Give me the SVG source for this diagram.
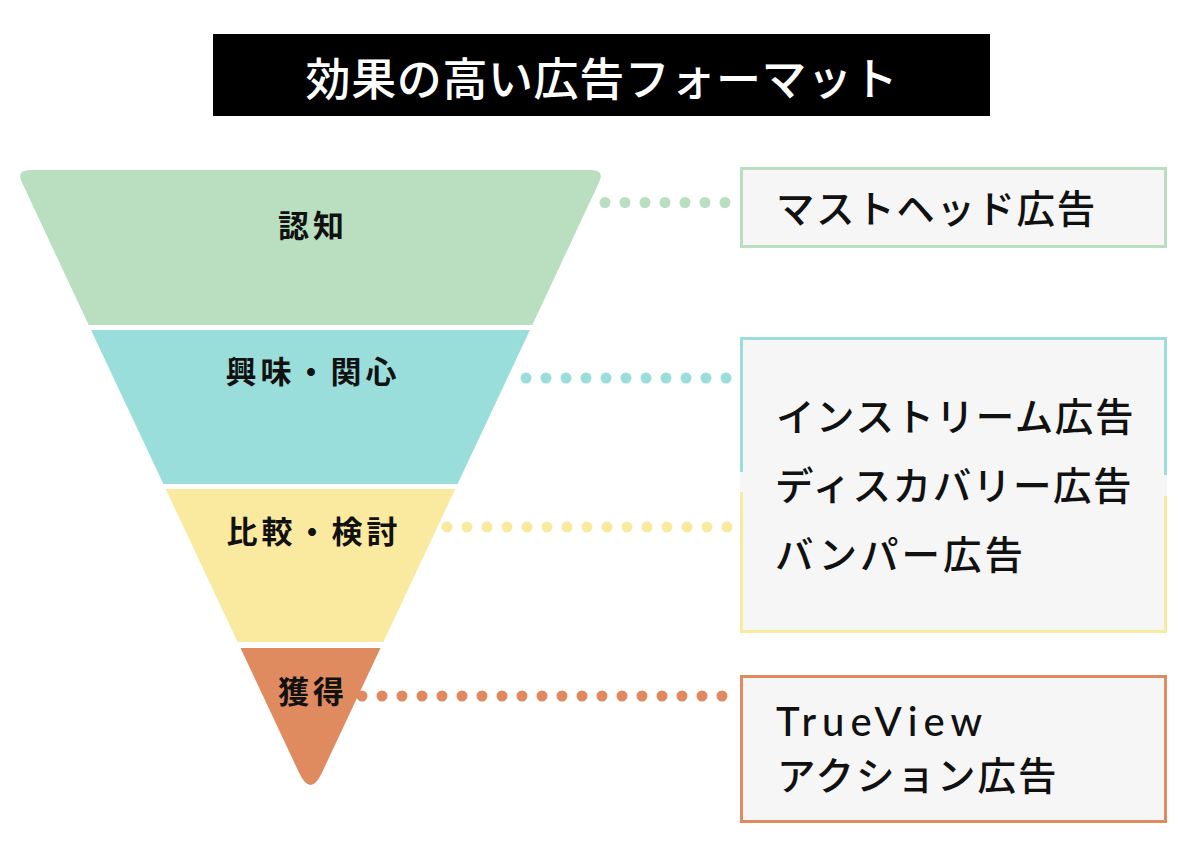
<svg xmlns="http://www.w3.org/2000/svg" width="1201" height="861" viewBox="0 0 1201 861">
<style>
.lbl{font-family:"Noto Sans CJK JP","Noto Sans",sans-serif;font-weight:700;font-size:31px;fill:#111;text-anchor:middle;letter-spacing:4px}
.ad{font-family:"Noto Sans CJK JP","Noto Sans",sans-serif;font-weight:500;font-size:38.5px;fill:#111;letter-spacing:1.6px}
.latin{font-family:Lato,"Noto Sans",sans-serif;font-weight:500;font-size:40px;fill:#111;letter-spacing:6px}
.title{font-family:"Noto Sans CJK JP","Noto Sans",sans-serif;font-weight:500;font-size:45px;fill:#fff;text-anchor:middle;letter-spacing:0.6px}
.box{fill:#f6f6f6}
.g{fill:#b9dec0}.t{fill:#9adedb}.y{fill:#f9eaa0}.o{fill:#e08a5f}
.gs{stroke:#b9dec0}.ts{stroke:#9adedb}.ys{stroke:#f9eaa0}.os{stroke:#e08a5f}
.bd{fill:none;stroke-width:3}
.dots{fill:none;stroke-width:11;stroke-linecap:round;stroke-dasharray:0 20}
</style>
<rect width="1201" height="861" fill="#fff"/>
<g id="title">
<rect x="213" y="34" width="777" height="82" fill="#000"/>
<text class="title" x="602" y="96">効果の高い広告フォーマット</text>
</g>
<g id="stage-awareness">
<path class="g" d="M30,170 H591 Q605,170 599,182.6 L532.3,325 H88.7 L22,182.6 Q16,170 30,170 Z"/>
<text class="lbl" x="313" y="237">認知</text>
</g>
<g id="stage-interest">
<path class="t" d="M91,330 H530 L457.6,484 H163.4 Z"/>
<text class="lbl" x="313" y="383">興味・関心</text>
</g>
<g id="stage-consideration">
<path class="y" d="M165.7,489 H455.3 L383.4,642 H237.6 Z"/>
<text class="lbl" x="314" y="543">比較・検討</text>
</g>
<g id="stage-acquisition">
<path class="o" d="M240.5,648 H380.5 L321.8,773 Q310.5,797 299.2,773 Z"/>
<text class="lbl" x="313" y="703">獲得</text>
</g>
<g id="connectors">
<path class="dots gs" d="M605,202.5 H726"/>
<path class="dots ts" d="M526,378 H727"/>
<path class="dots ys" d="M447,527 H728"/>
<path class="dots os" d="M362,696 H723"/>
</g>
<g id="box-masthead">
<rect class="box" x="740" y="167" width="427" height="81"/>
<rect class="bd gs" x="741.5" y="168.5" width="424" height="78"/>
<text class="ad" x="776" y="223">マストヘッド広告</text>
</g>
<g id="box-video">
<rect class="box" x="740" y="337" width="427" height="296"/>
<path class="bd ts" d="M741.5,472 V338.5 H1165.5 V475"/>
<path class="bd ys" d="M741.5,492 V631.5 H1165.5 V496"/>
<text class="ad" x="776" y="431">インストリーム広告</text>
<text class="ad" x="775" y="500">ディスカバリー広告</text>
<text class="ad" x="775" y="569" style="letter-spacing:3px">バンパー広告</text>
</g>
<g id="box-action">
<rect class="box" x="740" y="675" width="427" height="148"/>
<rect class="bd os" x="741.5" y="676.5" width="424" height="145"/>
<text class="latin" x="776" y="736">TrueView</text>
<text class="ad" x="777" y="790" style="letter-spacing:2px">アクション広告</text>
</g>
</svg>
